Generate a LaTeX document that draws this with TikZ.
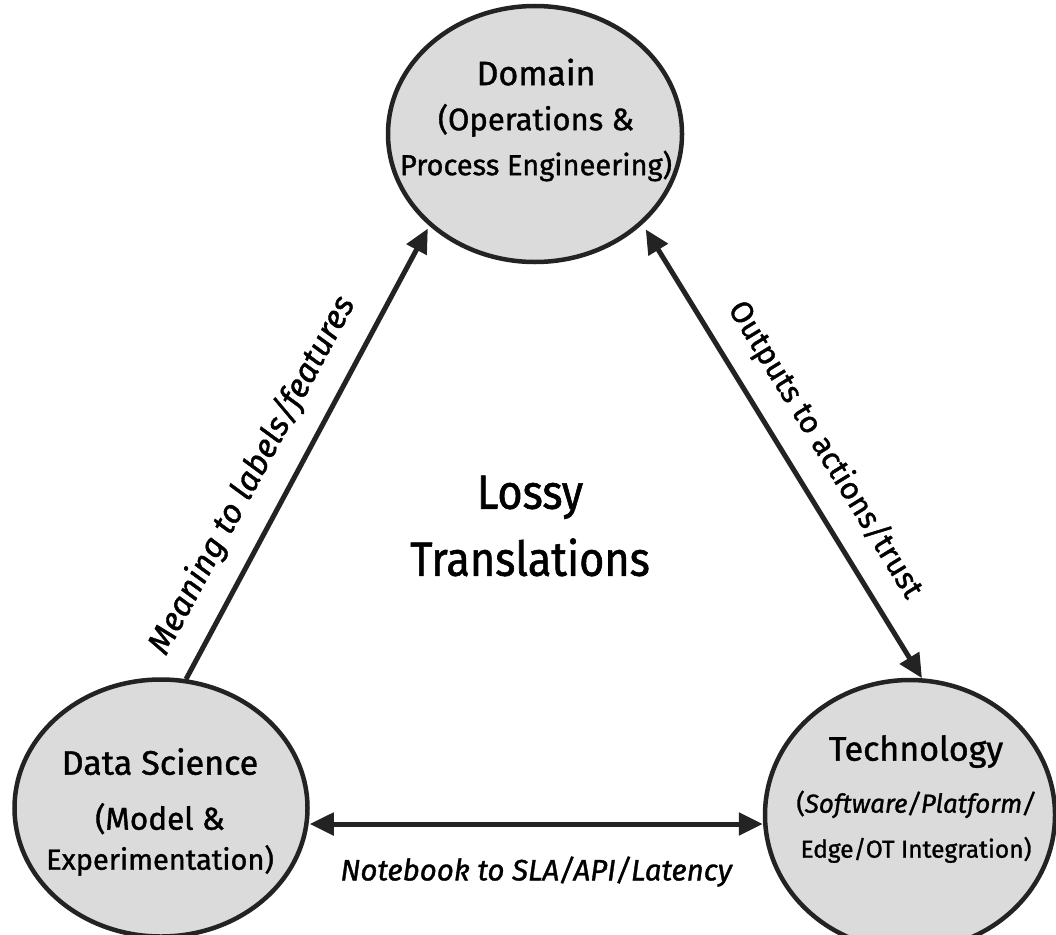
\documentclass[tikz,border=0pt]{standalone}
\usepackage{fontspec}
\setmainfont[FakeBold=1.2]{Fira Sans}
\newfontfamily\narrowfont[FakeStretch=0.9,FakeBold=1.2]{Fira Sans}
\usetikzlibrary{shapes.geometric,arrows.meta}
\definecolor{ink}{HTML}{232323}
\definecolor{disc}{HTML}{DBDBDB}
\newcommand{\ttl}{\fontsize{34}{34}\selectfont}
\tikzset{
  area/.style={ellipse, draw=ink, line width=4.5pt, fill=disc, inner sep=0pt},
  inner/.style={align=center, text=black, inner sep=0pt},
  link/.style={draw=ink, line width=5pt, -{Triangle[length=24pt,width=22pt]}},
  biglink/.style={draw=ink, line width=5pt, {Triangle[length=24pt,width=22pt]}-{Triangle[length=24pt,width=22pt]}},
  tag/.style={text=black, inner sep=0pt}
}
\begin{document}
\begin{tikzpicture}[x=1pt,y=-1pt]
\useasboundingbox[fill=white] (0,0) rectangle (1056,934);
\node[area, minimum width=294pt, minimum height=256pt] (dom) at (535,134) {};
\node[area, minimum width=293pt, minimum height=257pt] (ds) at (161,808) {};
\node[area, minimum width=290pt, minimum height=270pt] (tech) at (910,815) {};
\node[inner, font=\fontsize{29}{45}\selectfont] (domt) at (536,120) {{\ttl Domain}\\{\fontsize{31}{31}\selectfont(Operations \&}\\Process Engineering)};
\node[inner, font=\fontsize{29}{40}\selectfont] (dst) at (160,812) {{\ttl Data Science}\\[15pt]{\fontsize{31.5}{31.5}\selectfont(Model \&}\\Experimentation)};
\node[inner, font=\fontsize{26}{45}\selectfont] (techt) at (916,799) {{\ttl Technology}\\[7pt](\textit{Software/Platform/}\\{\fontsize{24.5}{24.5}\selectfont Edge/OT Integration)}};
\node[inner, font=\narrowfont\fontsize{48}{67}\selectfont] (center) at (530,526) {Lossy\\Translations};
\coordinate (b) at (537,824);
\draw[link, shorten >=3pt] (ds.79) -- node[tag, sloped, above=19pt, pos=0.41, font=\fontsize{33}{40}\selectfont\itshape] (l1) {Meaning to labels/features} (dom.221.5);
\draw[biglink, shorten <=6pt] (dom.-40) -- node[tag, sloped, above=19pt, pos=0.54, font=\fontsize{31}{40}\selectfont] (l2) {Outputs to actions/trust} (tech.85);
\draw[biglink] (ds.east |- b) -- node[tag, below=30pt, font=\fontsize{29.5}{40}\selectfont\itshape] (l3) {Notebook to SLA/API/Latency} (tech.west |- b);
\end{tikzpicture}
\end{document}
